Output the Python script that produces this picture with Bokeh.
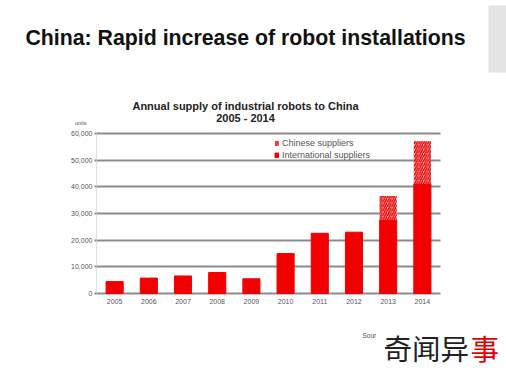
from bokeh.plotting import figure
from bokeh.models import (ColumnDataSource, Label, Legend, LegendItem, FixedTicker,
                          NumeralTickFormatter, Range1d, BoxAnnotation, LinearAxis)
from bokeh.embed import file_html
from bokeh.resources import INLINE

years = [2005, 2006, 2007, 2008, 2009, 2010, 2011, 2012, 2013, 2014]
international = [4461, 5770, 6581, 7879, 5525, 14978, 22577, 22987, 27600, 41100]
chinese = [0, 0, 0, 0, 0, 0, 0, 0, 8960, 15996]
y_ticks = [0, 10000, 20000, 30000, 40000, 50000, 60000]
units_tick = [64000]

main_title = "China: Rapid increase of robot installations"
chart_title_1 = "Annual supply of industrial robots to China"
chart_title_2 = "2005 - 2014"
units_text = "units"
source_text = "Sour"
watermark_a = "奇闻异"
watermark_b = "事"

totals = [a + b for a, b in zip(international, chinese)]
src = ColumnDataSource(dict(year=years, intl=international, cn=chinese, total=totals))

W, H = 506, 370
OFF = 0  # reference px = figure px + OFF
# plot area in reference pixels
PL, PR, PT, PB = 96, 440, 133, 293
X0, X1 = 2004.47, 2014.53
Y0, Y1 = 0, 60000
sx = (X1 - X0) / (PR - PL)
sy = (Y1 - Y0) / (PB - PT)


def dx(rx):
    return X0 + (rx - PL) * sx


def dy(ry):
    return Y0 + (PB - ry) * sy


p = figure(width=W, height=H, output_backend="svg", toolbar_location=None,
           x_range=Range1d(dx(OFF), dx(OFF + W)), y_range=Range1d(dy(OFF + H), dy(OFF)),
           min_border_left=0, min_border_right=0, min_border_top=0, min_border_bottom=0)
p.outline_line_color = None
p.background_fill_color = "white"
p.border_fill_color = "white"

# top-right grey strip of the slide
p.add_layout(BoxAnnotation(left=dx(488), right=dx(520), top=dy(5), bottom=dy(72),
                           fill_color="#e4e4e4", fill_alpha=1, line_color=None, level="underlay"))

red = "#f20000"
r_int = p.vbar(x="year", width=0.5, bottom=0, top="intl", source=src,
               fill_color=red, line_color=red)
r_cn = p.vbar(x="year", width=0.5, bottom="intl", top="total", source=src,
              fill_color="#f6c0c0", line_color=None,
              hatch_pattern="/", hatch_color="#e80000", hatch_scale=4.5, hatch_weight=1.4)

# grid
p.xgrid.grid_line_color = None
p.ygrid.ticker = FixedTicker(ticks=y_ticks)
p.ygrid.grid_line_color = "#8c8c8c"
p.ygrid.grid_line_width = 2
try:
    p.ygrid.cross_bounds = (X0, X1)
except Exception:
    for l, r in ((dx(-20), X0), (X1, dx(540))):
        p.add_layout(BoxAnnotation(left=l, right=r, top=dy(-20), bottom=dy(400),
                                   fill_color="white", fill_alpha=1, line_color=None,
                                   level="underlay"))

# y axis
ya = p.yaxis[0]
ya.fixed_location = X0
ya.bounds = (Y0, Y1)
ya.ticker = FixedTicker(ticks=y_ticks)
ya.formatter = NumeralTickFormatter(format="0,0")
ya.axis_line_color = "#e0e0e0"
ya.major_tick_line_color = "#8c8c8c"
ya.major_tick_line_width = 2
ya.major_tick_out = 2
ya.major_tick_in = 0
ya.minor_tick_line_color = None
ya.major_label_standoff = 2

ua = LinearAxis(fixed_location=dx(86), ticker=FixedTicker(ticks=units_tick),
                major_label_overrides={units_tick[0]: units_text},
                axis_line_color=None, major_tick_line_color=None, minor_tick_line_color=None,
                major_tick_out=0, major_tick_in=0, major_label_standoff=0)
p.add_layout(ua, "left")

# x axis
xa = p.xaxis[0]
xa.fixed_location = 0
xa.ticker = FixedTicker(ticks=years)
xa.axis_line_color = None
xa.major_tick_line_color = None
xa.minor_tick_line_color = None
xa.major_tick_out = 0
xa.major_tick_in = 0
xa.major_label_standoff = 5

for ax in (xa, ya, ua):
    ax.major_label_text_font = "Liberation Sans"
    ax.major_label_text_font_size = "7px"
    ax.major_label_text_color = "#555555"
ua.major_label_text_font_size = "5.5px"

legend = Legend(items=[LegendItem(label="Chinese suppliers", renderers=[r_cn]),
                       LegendItem(label="International suppliers", renderers=[r_int])],
                location=(274 - OFF, OFF + H - 160), glyph_width=5, glyph_height=6,
                label_height=10, label_standoff=3, spacing=2, padding=0, margin=0,
                label_text_font="Liberation Sans", label_text_font_size="9px",
                label_text_color="#555555", background_fill_alpha=0,
                border_line_color=None)
p.add_layout(legend)


def lab(text, rx, ry, size, bold=False, color="#000000", align="center",
        font="Liberation Sans", baseline="alphabetic"):
    p.add_layout(Label(x=dx(rx), y=dy(ry), text=text, text_font=font,
                       text_font_size=size, text_font_style="bold" if bold else "normal",
                       text_color=color, text_align=align, text_baseline=baseline))


lab(main_title, 245, 37, "21.3px", bold=True, color="#111111")
lab(chart_title_1, 245, 105, "11px", bold=True, color="#222222")
lab(chart_title_2, 245, 117, "11px", bold=True, color="#222222")
lab(source_text, 362, 335, "6.5px", color="#555555", align="left")
lab(watermark_a, 383, 347, "28.5px", color="#222222", align="left",
    font="Noto Sans CJK SC", baseline="middle")
lab(watermark_b, 470, 347, "28.5px", color="#e00000", align="left",
    font="Noto Sans CJK SC", baseline="middle")

open("out.html", "w").write(file_html(p, INLINE))
